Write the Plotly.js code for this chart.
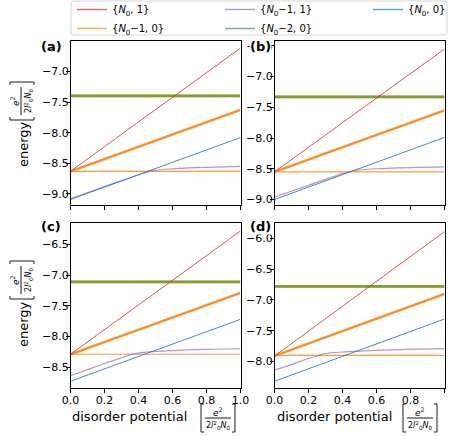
<!DOCTYPE html>
<html>
<head>
<meta charset="utf-8">
<script src="https://cdn.plot.ly/plotly-3.0.1.min.js"></script>
<style>
  html, body { margin: 0; padding: 0; background: #fff; }
  #chart { width: 450px; height: 436px; }
</style>
</head>
<body>
<div id="chart"></div>
<script>
// ---- energy levels vs. disorder potential, four parameter sets (a)-(d) ----
const xLine = [0, 1];

// (a)
const a_red        = [-8.63, -6.62];
const a_orangeUp   = [-8.63, -7.63];
const a_orangeFlat = [-8.63, -8.63];
const a_orangeHigh = [-7.40, -7.40];
const a_green      = [-7.40, -7.40];
const a_blue       = [-9.09, -8.08];
const a_purpleX    = [0, 0.2, 0.4, 0.45, 0.5, 0.6, 0.7, 0.8, 1.0];
const a_purple     = [-9.08, -8.88, -8.69, -8.645, -8.615, -8.59, -8.575, -8.565, -8.55];

// (b)
const b_red        = [-8.55, -6.55];
const b_orangeUp   = [-8.55, -7.55];
const b_orangeFlat = [-8.55, -8.55];
const b_orangeHigh = [-7.33, -7.33];
const b_green      = [-7.33, -7.33];
const b_blue       = [-9.00, -7.99];
const b_purpleX    = [0, 0.2, 0.4, 0.45, 0.5, 0.6, 0.8, 1.0];
const b_purple     = [-8.96, -8.77, -8.58, -8.54, -8.52, -8.50, -8.48, -8.47];

// (c)
const c_red        = [-8.29, -6.28];
const c_orangeUp   = [-8.29, -7.29];
const c_orangeFlat = [-8.29, -8.29];
const c_orangeHigh = [-7.11, -7.11];
const c_green      = [-7.11, -7.11];
const c_blue       = [-8.73, -7.72];
const c_purpleX    = [0, 0.1, 0.2, 0.3, 0.35, 0.4, 0.5, 0.6, 0.8, 1.0];
const c_purple     = [-8.64, -8.54, -8.44, -8.35, -8.30, -8.27, -8.245, -8.23, -8.21, -8.20];

// (d)
const d_red        = [-7.91, -5.89];
const d_orangeUp   = [-7.91, -6.90];
const d_orangeFlat = [-7.90, -7.90];
const d_orangeHigh = [-6.78, -6.78];
const d_green      = [-6.78, -6.78];
const d_blue       = [-8.32, -7.31];
const d_purpleX    = [0, 0.1, 0.2, 0.25, 0.3, 0.4, 0.5, 0.6, 0.8, 1.0];
const d_purple     = [-8.14, -8.05, -7.95, -7.91, -7.87, -7.845, -7.83, -7.82, -7.80, -7.79];

// axis extents and ticks
const xTicks = [0, 0.2, 0.4, 0.6, 0.8, 1.0];
const yRangeA = [-9.18, -6.505];
const yRangeB = [-9.09, -6.42];
const yRangeC = [-8.84, -6.15];
const yRangeD = [-8.43, -5.75];

// series names
const nameN01  = '{<i>N</i><sub>0</sub>, 1}';
const nameN010 = '{<i>N</i><sub>0</sub>−1, 0}';
const nameN011 = '{<i>N</i><sub>0</sub>−1, 1}';
const nameN020 = '{<i>N</i><sub>0</sub>−2, 0}';
const nameN00  = '{<i>N</i><sub>0</sub>, 0}';

const C = {
  red: '#d62728', orange: '#ff7f0e', purple: '#9467bd', green: '#2ca02c', blue: '#1f77b4'
};

const panels = [
  { xa: 'x',  ya: 'y',  red: a_red, up: a_orangeUp, flat: a_orangeFlat, high: a_orangeHigh, green: a_green, blue: a_blue, px: a_purpleX, p: a_purple },
  { xa: 'x2', ya: 'y2', red: b_red, up: b_orangeUp, flat: b_orangeFlat, high: b_orangeHigh, green: b_green, blue: b_blue, px: b_purpleX, p: b_purple },
  { xa: 'x3', ya: 'y3', red: c_red, up: c_orangeUp, flat: c_orangeFlat, high: c_orangeHigh, green: c_green, blue: c_blue, px: c_purpleX, p: c_purple },
  { xa: 'x4', ya: 'y4', red: d_red, up: d_orangeUp, flat: d_orangeFlat, high: d_orangeHigh, green: d_green, blue: d_blue, px: d_purpleX, p: d_purple }
];

// legend keys: thin lines, one per family, in the column order of the key box
const legendKeys = [
  { name: nameN01,  color: C.red },
  { name: nameN011, color: C.purple },
  { name: nameN00,  color: C.blue },
  { name: nameN010, color: C.orange },
  { name: nameN020, color: C.green }
];

const traces = [];
panels.forEach((P) => {
  const base = { type: 'scatter', mode: 'lines', xaxis: P.xa, yaxis: P.ya, hoverinfo: 'skip', showlegend: false };
  traces.push(Object.assign({}, base, { x: xLine, y: P.flat, name: nameN010, line: { color: C.orange, width: 1.2 }, opacity: 0.8 }));
  traces.push(Object.assign({}, base, { x: P.px, y: P.p, name: nameN011, line: { color: C.purple, width: 1.2, shape: 'spline' }, opacity: 0.7 }));
  traces.push(Object.assign({}, base, { x: xLine, y: P.blue, name: nameN00, line: { color: C.blue, width: 1 }, opacity: 0.85 }));
  traces.push(Object.assign({}, base, { x: xLine, y: P.up, name: nameN010, line: { color: C.orange, width: 2.4 }, opacity: 0.9 }));
  traces.push(Object.assign({}, base, { x: xLine, y: P.high, name: nameN010, line: { color: C.orange, width: 2.6 }, opacity: 0.8 }));
  traces.push(Object.assign({}, base, { x: xLine, y: P.green, name: nameN020, line: { color: C.green, width: 2.6 }, opacity: 0.6 }));
  traces.push(Object.assign({}, base, { x: xLine, y: P.red, name: nameN01, line: { color: C.red, width: 1 }, opacity: 0.8 }));
});
legendKeys.forEach((k) => {
  traces.push({ type: 'scatter', mode: 'lines', x: [null], y: [null], name: k.name, showlegend: true,
    line: { color: k.color, width: 1.4 }, opacity: 0.7, hoverinfo: 'skip' });
});

// pixel -> paper helpers
const W = 450, H = 436;
const px = v => v / W;
const py = v => 1 - v / H;

const FONT = 'DejaVu Sans, sans-serif';
const tickFont = { family: FONT, size: 11, color: '#000' };

function xAxis(dom, showLabels) {
  return {
    domain: dom, range: [0, 1], tickvals: xTicks, tickformat: '.1f',
    showticklabels: showLabels, ticks: 'outside', ticklen: 3.5, tickwidth: 1, tickcolor: '#000',
    showline: true, mirror: true, linecolor: '#000', linewidth: 1, ticklabelstandoff: -2,
    showgrid: false, zeroline: false, tickfont: tickFont, fixedrange: true
  };
}
function yAxis(dom, rng, anchor) {
  return {
    domain: dom, range: rng, dtick: 0.5, tick0: 0, tickformat: '.1f',
    ticks: 'outside', ticklen: 3.5, tickwidth: 1, tickcolor: '#000',
    showline: true, mirror: true, linecolor: '#000', linewidth: 1, ticklabelstandoff: -5,
    showgrid: false, zeroline: false, tickfont: tickFont, anchor: anchor, fixedrange: true
  };
}

const colL = [px(70.5), px(240.5)];
const colR = [px(274.5), px(444.5)];
const rowT = [py(205), py(41)];
const rowB = [py(388), py(223)];

const annotations = [];
const shapes = [];

function ann(text, x, y, opts) {
  annotations.push(Object.assign({
    text: text, x: px(x), y: py(y), xref: 'paper', yref: 'paper', showarrow: false,
    xanchor: 'center', yanchor: 'middle', font: { family: FONT, size: 13, color: '#000' }
  }, opts || {}));
}
function seg(x0, y0, x1, y1) {
  shapes.push({ type: 'line', xref: 'paper', yref: 'paper', x0: px(x0), y0: py(y0), x1: px(x1), y1: py(y1),
    line: { color: '#000', width: 0.9 } });
}

const numText = '<i>e</i><sup>2</sup>';
const denText = '2<i>l</i><sup>2</sup><sub>0</sub><i>N</i><sub>0</sub>';

// unit label, horizontal: [ e^2 / (2 l0^2 N0) ]
function unitH(cx, cy) {
  const L = cx - 17, R = cx + 17, T = cy - 14, B = cy + 14;
  seg(L, T, L, B); seg(L, T, L + 3, T); seg(L, B, L + 3, B);
  seg(R, T, R, B); seg(R, T, R - 3, T); seg(R, B, R - 3, B);
  seg(cx - 13, cy, cx + 13, cy);
  ann(numText, cx, cy - 6.5, { font: { family: FONT, size: 9, color: '#000' } });
  ann(denText, cx, cy + 7, { font: { family: FONT, size: 8, color: '#000' } });
}
// unit label, rotated for the vertical axis
function unitV(cx, cy) {
  const T = cy - 19, B = cy + 19, L = cx - 12, R = cx + 12;
  seg(L, B, R, B); seg(L, B, L, B - 3); seg(R, B, R, B - 3);
  seg(L, T, R, T); seg(L, T, L, T + 3); seg(R, T, R, T + 3);
  seg(cx - 1, cy - 14, cx - 1, cy + 14);
  ann(numText, cx - 7, cy, { textangle: -90, font: { family: FONT, size: 9, color: '#000' } });
  ann(denText, cx + 6, cy, { textangle: -90, font: { family: FONT, size: 8, color: '#000' } });
}

// axis titles
ann('energy', 23, 144, { textangle: -90 });
unitV(22, 101);
ann('energy', 23, 324, { textangle: -90 });
unitV(22, 280);
ann('disorder potential', 129, 416);
unitH(218, 418);
ann('disorder potential', 334, 416);
unitH(420, 418);

// panel letters (white backing hides the tick label underneath)
const boldFont = { family: FONT, size: 13, color: '#000', weight: 'bold' };
const letterOpts = { font: boldFont, bgcolor: '#fff', borderpad: 0 };
ann('<b>(a)</b>', 51, 47, letterOpts);
ann('<b>(b)</b>', 260, 47, letterOpts);
ann('<b>(c)</b>', 51, 226, letterOpts);
ann('<b>(d)</b>', 260, 226, letterOpts);

// legend frame
const fx0 = 71, fx1 = 447, fy0 = 1, fy1 = 35, r = 3;
shapes.push({
  type: 'path', xref: 'paper', yref: 'paper', layer: 'below',
  path: `M ${px(fx0 + r)},${py(fy0)} L ${px(fx1 - r)},${py(fy0)} Q ${px(fx1)},${py(fy0)} ${px(fx1)},${py(fy0 + r)} ` +
        `L ${px(fx1)},${py(fy1 - r)} Q ${px(fx1)},${py(fy1)} ${px(fx1 - r)},${py(fy1)} ` +
        `L ${px(fx0 + r)},${py(fy1)} Q ${px(fx0)},${py(fy1)} ${px(fx0)},${py(fy1 - r)} ` +
        `L ${px(fx0)},${py(fy0 + r)} Q ${px(fx0)},${py(fy0)} ${px(fx0 + r)},${py(fy0)} Z`,
  line: { color: '#d4d4d4', width: 1 }, fillcolor: 'rgba(255,255,255,0.9)'
});

const layout = {
  width: W, height: H,
  margin: { l: 0, r: 0, t: 0, b: 0, pad: 0, autoexpand: false },
  paper_bgcolor: '#fff', plot_bgcolor: '#fff',
  font: { family: FONT, size: 11, color: '#000' },
  showlegend: true,
  legend: {
    orientation: 'h', x: px(72), xanchor: 'left', y: py(-5), yanchor: 'top',
    borderwidth: 0, bgcolor: 'rgba(0,0,0,0)',
    font: { family: FONT, size: 10, color: '#000' },
    entrywidth: 103, entrywidthmode: 'pixels', traceorder: 'normal',
    itemclick: false, itemdoubleclick: false
  },
  xaxis: xAxis(colL, false), yaxis: yAxis(rowT, yRangeA, 'x'),
  xaxis2: xAxis(colR, false), yaxis2: yAxis(rowT, yRangeB, 'x2'),
  xaxis3: xAxis(colL, true), yaxis3: yAxis(rowB, yRangeC, 'x3'),
  xaxis4: xAxis(colR, true), yaxis4: yAxis(rowB, yRangeD, 'x4'),
  annotations: annotations,
  shapes: shapes
};
layout.xaxis.anchor = 'y';
layout.xaxis2.anchor = 'y2';
layout.xaxis3.anchor = 'y3';
layout.xaxis4.anchor = 'y4';

Plotly.newPlot('chart', traces, layout, { staticPlot: true, displayModeBar: false });
</script>
</body>
</html>
